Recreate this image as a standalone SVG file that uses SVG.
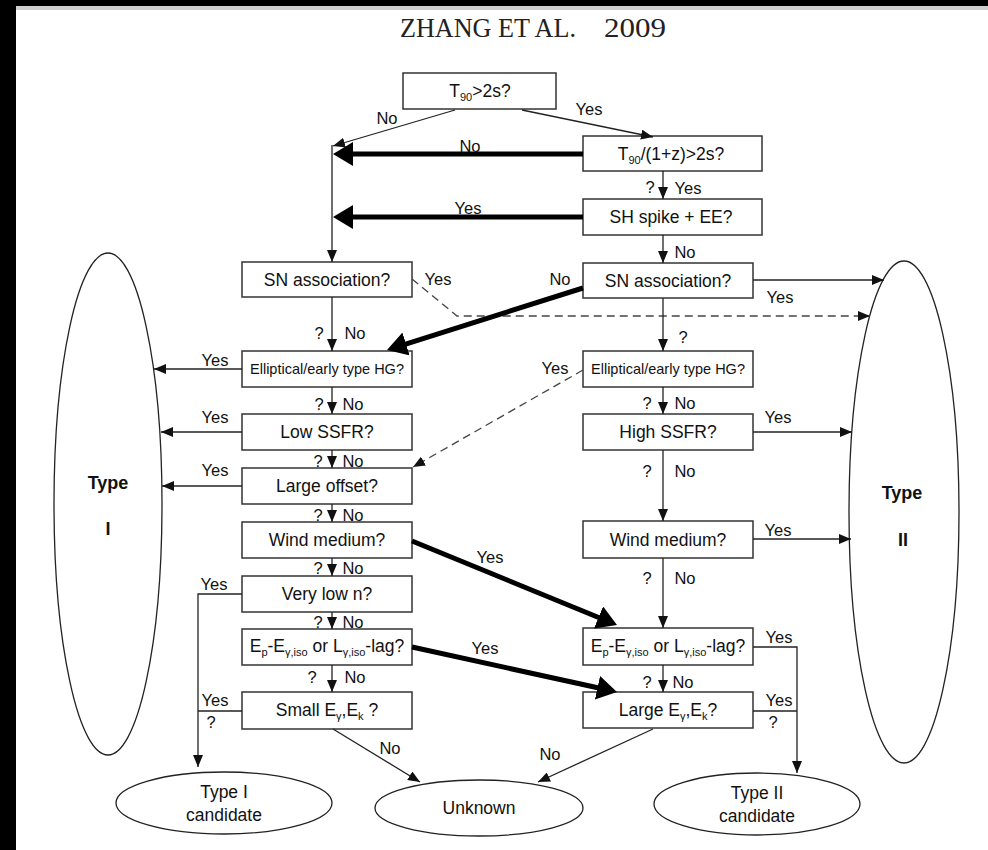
<svg xmlns="http://www.w3.org/2000/svg" width="988" height="850" viewBox="0 0 988 850">
<style>
.box{fill:#fff;stroke:#333;stroke-width:1.5}
.ell{fill:#fff;stroke:#222;stroke-width:1.3}
.t{font-family:"Liberation Sans",Arial,sans-serif;font-size:17.5px;fill:#111;text-anchor:middle}
.s{font-size:14.5px}
.lb{font-family:"Liberation Sans",Arial,sans-serif;font-size:16.5px;fill:#111;text-anchor:middle}
.b{font-weight:bold;font-size:18px}
.ln{stroke:#222;stroke-width:1.3;fill:none}
.thick{stroke:#000;stroke-width:5;fill:none}
.dash{stroke:#444;stroke-width:1.3;fill:none;stroke-dasharray:8 5}
.title{font-family:"Liberation Serif","Times New Roman",serif;font-size:28px;fill:#222}
</style>
<defs>
<marker id="a" markerUnits="userSpaceOnUse" viewBox="0 0 12 10" markerWidth="12" markerHeight="10" refX="12" refY="5" orient="auto"><path d="M0,0 L12,5 L0,10 z" fill="#111"/></marker>
<marker id="A" markerUnits="userSpaceOnUse" viewBox="0 0 20 24" markerWidth="20" markerHeight="24" refX="12" refY="12" orient="auto"><path d="M0,0 L20,12 L0,24 z" fill="#000"/></marker>
</defs>
<rect x="0" y="0" width="988" height="850" fill="#fff"/>
<rect x="0" y="0" width="988" height="6" fill="#000"/>
<rect x="0" y="0" width="16" height="850" fill="#000"/>
<rect x="16" y="6" width="972" height="4" fill="#d0d0d0"/>
<text class="title" x="400" y="37" textLength="176" lengthAdjust="spacingAndGlyphs">ZHANG ET AL.</text>
<text class="title" x="604" y="37" textLength="62" lengthAdjust="spacingAndGlyphs">2009</text>

<g id="n-t90">
<rect class="box" x="403" y="73" width="153" height="36"/>
<text class="t" x="480" y="97">T<tspan font-size="11" dy="4">90</tspan><tspan dy="-4">&gt;2s?</tspan></text>
</g>
<g id="n-t90z">
<rect class="box" x="583" y="136" width="179" height="35"/>
<text class="t" x="671" y="160">T<tspan font-size="11" dy="4">90</tspan><tspan dy="-4">/(1+z)&gt;2s?</tspan></text>
</g>
<g id="n-sh">
<rect class="box" x="583" y="199" width="179" height="36"/>
<text class="t" x="671" y="223">SH spike + EE?</text>
</g>
<g id="n-snL">
<rect class="box" x="242" y="262" width="170" height="35"/>
<text class="t" x="327" y="286">SN association?</text>
</g>
<g id="n-snR">
<rect class="box" x="583" y="263" width="170" height="35"/>
<text class="t" x="668" y="287">SN association?</text>
</g>
<g id="n-ellL">
<rect class="box" x="242" y="351" width="170" height="36"/>
<text class="t s" x="327" y="374">Elliptical/early type HG?</text>
</g>
<g id="n-ellR">
<rect class="box" x="583" y="351" width="170" height="36"/>
<text class="t s" x="668" y="374">Elliptical/early type HG?</text>
</g>
<g id="n-lowssfr">
<rect class="box" x="242" y="414" width="170" height="36"/>
<text class="t" x="327" y="438">Low SSFR?</text>
</g>
<g id="n-highssfr">
<rect class="box" x="583" y="414" width="170" height="36"/>
<text class="t" x="668" y="438">High SSFR?</text>
</g>
<g id="n-offset">
<rect class="box" x="242" y="468" width="170" height="36"/>
<text class="t" x="327" y="492">Large offset?</text>
</g>
<g id="n-windL">
<rect class="box" x="242" y="522" width="170" height="36"/>
<text class="t" x="327" y="546">Wind medium?</text>
</g>
<g id="n-windR">
<rect class="box" x="583" y="521" width="170" height="37"/>
<text class="t" x="668" y="546">Wind medium?</text>
</g>
<g id="n-lown">
<rect class="box" x="242" y="576" width="170" height="36"/>
<text class="t" x="327" y="600">Very low n?</text>
</g>
<g id="n-epL">
<rect class="box" x="242" y="629" width="170" height="36"/>
<text class="t" x="327" y="652">E<tspan font-size="11" dy="4">p</tspan><tspan dy="-4">-E</tspan><tspan font-size="11" dy="4">γ,iso</tspan><tspan dy="-4"> or L</tspan><tspan font-size="11" dy="4">γ,iso</tspan><tspan dy="-4">-lag?</tspan></text>
</g>
<g id="n-epR">
<rect class="box" x="583" y="628" width="170" height="37"/>
<text class="t" x="668" y="652">E<tspan font-size="11" dy="4">p</tspan><tspan dy="-4">-E</tspan><tspan font-size="11" dy="4">γ,iso</tspan><tspan dy="-4"> or L</tspan><tspan font-size="11" dy="4">γ,iso</tspan><tspan dy="-4">-lag?</tspan></text>
</g>
<g id="n-smallE">
<rect class="box" x="242" y="692" width="170" height="37"/>
<text class="t" x="327" y="716">Small E<tspan font-size="11" dy="4">γ</tspan><tspan dy="-4">,E</tspan><tspan font-size="11" dy="4">k</tspan><tspan dy="-4"> ?</tspan></text>
</g>
<g id="n-largeE">
<rect class="box" x="583" y="692" width="170" height="36"/>
<text class="t" x="668" y="716">Large E<tspan font-size="11" dy="4">γ</tspan><tspan dy="-4">,E</tspan><tspan font-size="11" dy="4">k</tspan><tspan dy="-4">?</tspan></text>
</g>
<g id="n-type1">
<ellipse class="ell" cx="108" cy="504" rx="54" ry="251"/>
<text class="t b" x="108" y="489">Type</text>
<text class="t b" x="108" y="535">I</text>
</g>
<g id="n-type2">
<ellipse class="ell" cx="904" cy="512" rx="55" ry="251"/>
<text class="t b" x="902" y="499">Type</text>
<text class="t b" x="903" y="546">II</text>
</g>
<g id="n-cand1">
<ellipse class="ell" cx="224" cy="803" rx="108" ry="31"/>
<text class="t" x="224" y="798">Type I</text>
<text class="t" x="224" y="821">candidate</text>
</g>
<g id="n-unknown">
<ellipse class="ell" cx="479" cy="808" rx="104" ry="28"/>
<text class="t" x="479" y="814">Unknown</text>
</g>
<g id="n-cand2">
<ellipse class="ell" cx="757" cy="804" rx="103" ry="31"/>
<text class="t" x="757" y="799">Type II</text>
<text class="t" x="757" y="822">candidate</text>
</g>

<g id="connectors">
<path class="ln" d="M455,110 L333,146" marker-end="url(#a)"/>
<path class="ln" d="M522,110 L653,137" marker-end="url(#a)"/>
<path class="thick" d="M583,154 L341,154" marker-end="url(#A)"/>
<path class="thick" d="M583,217 L341,217" marker-end="url(#A)"/>
<path class="ln" d="M332,145 L332,262" marker-end="url(#a)"/>
<path class="ln" d="M663,171 L663,199" marker-end="url(#a)"/>
<path class="ln" d="M663,235 L663,263" marker-end="url(#a)"/>
<path class="ln" d="M753,280 L884,280" marker-end="url(#a)"/>
<path class="dash" d="M412,279 L457,316 L870,316" marker-end="url(#a)"/>
<path class="thick" d="M583,288 L394.6,347.6" marker-end="url(#A)"/>
<path class="ln" d="M332,297 L332,351" marker-end="url(#a)"/>
<path class="ln" d="M663,298 L663,351" marker-end="url(#a)"/>
<path class="ln" d="M242,369 L154,369" marker-end="url(#a)"/>
<path class="dash" d="M583,370 L413,467" marker-end="url(#a)"/>
<path class="ln" d="M332,387 L332,414" marker-end="url(#a)"/>
<path class="ln" d="M663,387 L663,414" marker-end="url(#a)"/>
<path class="ln" d="M242,432 L161,432" marker-end="url(#a)"/>
<path class="ln" d="M753,432 L852,432" marker-end="url(#a)"/>
<path class="ln" d="M332,450 L332,468" marker-end="url(#a)"/>
<path class="ln" d="M663,450 L663,521" marker-end="url(#a)"/>
<path class="ln" d="M242,486 L162,486" marker-end="url(#a)"/>
<path class="ln" d="M332,504 L332,522" marker-end="url(#a)"/>
<path class="ln" d="M753,539 L851,539" marker-end="url(#a)"/>
<path class="thick" d="M412,541 L609.6,622" marker-end="url(#A)"/>
<path class="ln" d="M332,558 L332,576" marker-end="url(#a)"/>
<path class="ln" d="M663,558 L663,628" marker-end="url(#a)"/>
<path class="ln" d="M242,594 L198,594 L198,767" marker-end="url(#a)"/>
<path class="ln" d="M332,612 L332,629" marker-end="url(#a)"/>
<path class="thick" d="M412,647 L609.2,690.3" marker-end="url(#A)"/>
<path class="ln" d="M753,647 L797,647 L797,773" marker-end="url(#a)"/>
<path class="ln" d="M332,665 L332,692" marker-end="url(#a)"/>
<path class="ln" d="M663,665 L663,692" marker-end="url(#a)"/>
<path class="ln" d="M242,711 L198,711"/>
<path class="ln" d="M753,711 L797,711"/>
<path class="ln" d="M333,729 L420,782" marker-end="url(#a)"/>
<path class="ln" d="M653,729 L538,782" marker-end="url(#a)"/>

<text class="lb" x="387" y="124">No</text>
<text class="lb" x="589" y="115">Yes</text>
<text class="lb" x="470" y="152">No</text>
<text class="lb" x="468" y="214">Yes</text>
<text class="lb" x="650" y="193">?</text>
<text class="lb" x="688" y="194">Yes</text>
<text class="lb" x="685" y="258">No</text>
<text class="lb" x="560" y="285">No</text>
<text class="lb" x="438" y="285">Yes</text>
<text class="lb" x="780" y="303">Yes</text>
<text class="lb" x="683" y="343">?</text>
<text class="lb" x="319" y="339">?</text>
<text class="lb" x="355" y="339">No</text>
<text class="lb" x="215" y="366">Yes</text>
<text class="lb" x="555" y="374">Yes</text>
<text class="lb" x="319" y="410">?</text>
<text class="lb" x="353" y="410">No</text>
<text class="lb" x="647" y="409">?</text>
<text class="lb" x="685" y="409">No</text>
<text class="lb" x="215" y="423">Yes</text>
<text class="lb" x="778" y="423">Yes</text>
<text class="lb" x="318" y="467">?</text>
<text class="lb" x="353" y="467">No</text>
<text class="lb" x="215" y="476">Yes</text>
<text class="lb" x="647" y="477">?</text>
<text class="lb" x="685" y="477">No</text>
<text class="lb" x="318" y="521">?</text>
<text class="lb" x="353" y="521">No</text>
<text class="lb" x="778" y="536">Yes</text>
<text class="lb" x="490" y="563">Yes</text>
<text class="lb" x="318" y="574">?</text>
<text class="lb" x="353" y="574">No</text>
<text class="lb" x="647" y="584">?</text>
<text class="lb" x="685" y="584">No</text>
<text class="lb" x="214" y="590">Yes</text>
<text class="lb" x="318" y="628">?</text>
<text class="lb" x="353" y="628">No</text>
<text class="lb" x="779" y="643">Yes</text>
<text class="lb" x="485" y="654">Yes</text>
<text class="lb" x="312" y="683">?</text>
<text class="lb" x="355" y="683">No</text>
<text class="lb" x="647" y="688">?</text>
<text class="lb" x="683" y="688">No</text>
<text class="lb" x="215" y="706">Yes</text>
<text class="lb" x="211" y="728">?</text>
<text class="lb" x="779" y="706">Yes</text>
<text class="lb" x="773" y="728">?</text>
<text class="lb" x="390" y="754">No</text>
<text class="lb" x="550" y="760">No</text>
</g>
</svg>
